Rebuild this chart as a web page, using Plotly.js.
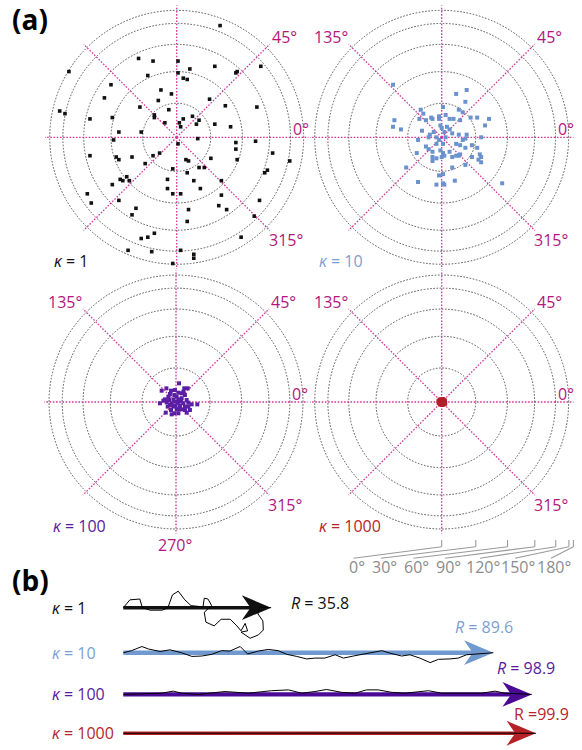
<!DOCTYPE html>
<html><head><meta charset="utf-8">
<script src="https://cdn.plot.ly/plotly-3.0.1.min.js"></script>
<style>html,body{margin:0;padding:0;background:#fff}</style>
</head><body><div id="chart" style="width:582px;height:750px"></div>
<script>
// ---------- DATA ----------
// (a) equal-area projected directions (east / north components, unit radius = 180 deg deviation)
const k1East = [0.33,-0.82,-0.29,-0.18,0.01,0.10,0.29,0.45,0.46,0.64,0.01,-0.22,0.05,0.08,-0.50,-0.12,-0.04,-0.55,-0.14,0.25,0.37,-0.28,0.61,-0.89,-0.85,-0.06,-0.17,-0.17,0.12,0.05,0.02,0.17,0.15,0.29,0.41,-0.49,-0.66,-0.09,0.03,-0.44,-0.27,-0.48,0.16,0.45,0.60,0.45,0.01,-0.66,-0.46,-0.44,-0.34,-0.18,-0.13,0.07,0.09,0.26,0.46,0.73,0.86,-0.24,-0.03,0.17,0.21,0.69,0.67,0.08,-0.43,-0.41,-0.38,-0.36,-0.07,0.13,0.34,-0.49,-0.07,0.18,-0.68,-0.03,0.03,0.34,-0.65,-0.44,0.63,-0.31,0.09,0.32,0.38,-0.34,0.59,0.08,-0.17,-0.27,-0.22,0.49,-0.37,-0.19,0.03,0.13,0.13,-0.03];
const k1North = [0.85,0.50,0.60,0.58,0.58,0.52,0.54,0.49,0.50,0.54,0.49,0.47,0.45,0.44,0.40,0.36,0.33,0.30,0.28,0.29,0.24,0.23,0.23,0.20,0.18,0.21,0.17,0.15,0.16,0.14,0.11,0.13,0.10,0.10,0.08,0.15,0.14,0.11,0.08,0.04,0.04,-0.02,-0.01,-0.04,-0.03,-0.09,-0.05,-0.14,-0.15,-0.17,-0.15,-0.14,-0.12,-0.17,-0.18,-0.16,-0.17,-0.12,-0.18,-0.20,-0.24,-0.23,-0.23,-0.25,-0.27,-0.27,-0.32,-0.33,-0.30,-0.33,-0.32,-0.33,-0.33,-0.36,-0.39,-0.39,-0.43,-0.43,-0.43,-0.44,-0.50,-0.48,-0.48,-0.54,-0.55,-0.52,-0.55,-0.59,-0.60,-0.64,-0.73,-0.77,-0.76,-0.76,-0.86,-0.87,-0.86,-0.89,-0.92,-0.96];

const k10East = [-0.37,0.19,0.11,0.18,-0.16,0.01,0.13,-0.14,0.16,-0.02,-0.08,0.03,-0.17,-0.12,-0.07,-0.02,0.06,0.09,0.14,0.22,0.27,0.36,-0.36,0.33,-0.37,-0.31,-0.01,0.04,0.06,0.00,-0.15,-0.06,-0.09,0.02,0.08,0.13,0.19,0.30,-0.18,-0.10,-0.04,-0.02,0.03,0.18,0.16,-0.12,0.01,0.11,0.14,0.18,0.23,0.27,-0.04,-0.10,-0.07,-0.01,0.01,0.06,0.11,0.13,0.14,-0.19,-0.07,-0.04,0.00,0.02,0.08,0.23,0.29,0.30,0.28,0.30,0.18,-0.07,-0.27,0.08,0.01,-0.02,-0.18,-0.04,0.01,0.02,0.10,0.46];
const k10North = [0.40,0.36,0.33,0.27,0.21,0.23,0.21,0.18,0.19,0.16,0.15,0.17,0.14,0.13,0.14,0.14,0.14,0.14,0.13,0.15,0.15,0.14,0.13,0.09,0.08,0.06,0.09,0.08,0.06,0.07,0.05,0.04,0.02,0.04,0.03,0.02,0.02,0.00,-0.02,0.00,0.00,-0.02,0.00,-0.01,-0.02,-0.07,-0.05,-0.05,-0.06,-0.08,-0.06,-0.08,-0.05,-0.09,-0.11,-0.10,-0.12,-0.11,-0.14,-0.14,-0.13,-0.12,-0.15,-0.16,-0.15,-0.14,-0.15,-0.15,-0.13,-0.15,-0.17,-0.19,-0.21,-0.18,-0.23,-0.23,-0.28,-0.29,-0.34,-0.36,-0.35,-0.36,-0.33,-0.35];

const k100East = [0.023,-0.073,-0.109,-0.038,-0.008,0.063,0.089,0.018,0.043,-0.046,-0.013,0.068,0.005,-0.084,-0.053,-0.020,0.018,0.043,0.081,-0.122,-0.071,-0.033,0.013,0.056,0.094,0.119,0.162,-0.063,-0.020,0.030,0.068,-0.038,0.005,0.043,0.106,-0.013,0.018,-0.033,-0.078,0.081,0.038,-0.008,-0.058,0.056,-0.096,-0.003,0.023,0.068,-0.046,0.094];
const k100North = [0.142,0.104,0.086,0.086,0.091,0.104,0.104,0.071,0.066,0.061,0.053,0.053,0.041,0.020,0.015,0.020,0.020,0.028,0.015,-0.010,-0.003,-0.010,-0.005,-0.010,-0.005,-0.018,-0.018,-0.035,-0.035,-0.030,-0.035,-0.061,-0.056,-0.056,-0.061,-0.086,-0.086,-0.094,-0.081,-0.081,0.003,0.003,0.041,0.078,0.010,-0.030,-0.056,-0.061,-0.023,-0.035];

const k1000East = [0.000,0.010,-0.012,0.018,-0.020,0.005,-0.006,0.014,-0.015,0.002,0.020,-0.008,0.008,-0.022,0.024,0.000,-0.012,0.012,-0.004,0.006,0.016,-0.016,0.022,-0.024,0.026];
const k1000North = [0.015,0.012,0.010,0.004,0.002,0.000,-0.004,-0.008,-0.010,-0.015,-0.014,0.020,0.022,-0.006,0.010,-0.022,-0.018,-0.020,0.006,0.008,0.016,0.016,-0.002,0.006,-0.010];

// radial grid: angular deviation (deg) ; angular grid (deg)
const devTicks = [30,60,90,120,150,180];
const aziTicks = [0,45,90,135,180,225,270,315];
const scaleLabels = ['0°','30°','60°','90°','120°','150°','180°'];
const scaleDeg = [0,30,60,90,120,150,180];

// (b) random walks (unit steps), along / across resultant
const k1WalkX = [0,1.6,4.0,4.6,6.5,9.4,10.8,11.9,13.3,14.9,16.4,19.3,19.6,20.5,21.4,19.6,20.0,22.0,23.7,25.9,27.5,28.5,29.5,30.1,28.5,29.5,30.7,32.7,33.9,33.8,32.6,33.1,35.8];
const k1WalkY = [0,1.9,2.1,0,-0.6,-0.6,0,3.1,4.0,1.9,0.5,0.2,2.3,2.1,0.5,-1.1,-3.5,-4.4,-2.8,-2.8,-4.4,-5.6,-3.8,-5.6,-5.9,-6.6,-7.4,-6.6,-5.4,-3.2,-1.5,0.2,0];
const k10WalkX = [0,2.0,4.5,6.1,8.9,11.3,14.1,16.6,19.0,21.4,23.8,25.8,28.3,30.1,32.7,35.1,37.5,39.6,42.0,44.4,46.4,48.8,51.3,53.3,55.7,58.1,60.5,62.6,64.6,67.4,69.4,71.8,74.3,76.3,79.1,81.1,83.1,85.6,89.6];
const k10WalkY = [0,0.5,1.5,0.9,0.3,0.7,0.0,-0.9,-0.8,-0.4,0.5,0.4,1.5,-0.3,0.4,0.8,0.5,-0.4,-0.9,-1.5,-1.3,-1.3,-0.5,-1.3,-0.8,-0.3,0.2,0.5,-0.1,-0.8,-0.5,-1.3,-2.4,-1.6,-1.5,-1.3,-0.5,-0.3,0.0];
const k100WalkX = [0,6.1,9.3,12.1,14.1,18.2,24.6,30.3,35.9,40.0,43.2,46.4,49.2,52.9,56.1,58.9,61.7,65.0,68.2,73.9,77.1,82.7,86.8,90.0,92.4,98.9];
const k100WalkY = [0,0.3,0.3,0.8,0.3,0,0.7,0.3,0.9,1.1,0.3,0.7,1.2,0.5,0.3,1.1,1.1,0.5,0.3,0.9,0.3,0.3,0.3,0.8,0.3,0];
const k1000WalkX = [0,25,50,75,99.9];
const k1000WalkY = [0,0.05,0,0.05,0];

const kappaLabels = ['1','10','100','1000'];
const resultants = [35.8, 89.6, 98.9, 99.9];
const resultantText = ['<i>R</i> = 35.8','<i>R</i> = 89.6','<i>R</i> = 98.9','R =99.9'];

// ---------- STYLE / LAYOUT ----------
const W = 582, H = 750, RPX = 131.7;
const FONT = 'Open Sans, Noto Sans, sans-serif';
const centers = [[176.7,137.3],[441.7,137.3],[176,402],[441.7,402]];
const markColors = ['#111111','#6b92cc','#5a1ea3','#b01f2a'];
const textColors = ['#111111','#7b9fd4','#5a1aa0','#b5262a'];
const arrowColors = ['#111111','#7099cf','#4a0a96','#b52126'];
const shaftWidths = [3.6,4.6,4.2,3.6];
const markSizes = [3.6,4,4,4.2];
const rowOffsets = [0,-10.9,-21,-30.4];
const MAG = '#b3177c', MAGGRID = '#d4369c';
const angleLabelSets = [['45°','0°','315°'],['135°','45°','0°','315°'],['135°','45°','0°','315°','270°'],['135°','45°','0°','315°']];
const angleOffsets = {'135°':[-111,-100.5],'45°':[107.5,-100.5],'0°':[124,-8],'315°':[109,102.5],'270°':[-1,143]};
const scaleLabelX = [356.5,384,416.5,448,483,518,554];

const pts = [[k1East,k1North],[k10East,k10North],[k100East,k100North],[k1000East,k1000North]];
const walks = [[k1WalkX,k1WalkY],[k10WalkX,k10WalkY],[k100WalkX,k100WalkY],[k1000WalkX,k1000WalkY]];

const traces = [];
const layout = {
  width: W, height: H, margin:{l:0,r:0,t:0,b:0},
  paper_bgcolor:'#fff', plot_bgcolor:'rgba(0,0,0,0)', showlegend:false,
  annotations:[], shapes:[],
  font:{family:FONT}
};

function polarLayout(c){
  return {
    domain:{x:[(c[0]-RPX)/W,(c[0]+RPX)/W], y:[1-(c[1]+RPX)/H, 1-(c[1]-RPX)/H]},
    bgcolor:'rgba(0,0,0,0)',
    radialaxis:{range:[0,1.002], tickvals:devTicks.map(d=>Math.sin(d*Math.PI/360)),
      showticklabels:false, ticks:'', showline:false, gridcolor:'#555555', griddash:'1.6px,1.6px', gridwidth:1},
    angularaxis:{tickvals:aziTicks, showticklabels:false, ticks:'', showline:false,
      gridcolor:MAGGRID, griddash:'1.6px,1.6px', gridwidth:1.3, rotation:0, direction:'counterclockwise'}
  };
}
function addText(px,py,text,font,extra){
  layout.annotations.push(Object.assign({xref:'paper',yref:'paper',x:px/W,y:1-py/H,text:text,
    showarrow:false,xanchor:'center',yanchor:'middle',font:font}, extra||{}));
}

centers.forEach((c,i)=>{
  const name = i===0?'polar':'polar'+(i+1);
  layout[name] = polarLayout(c);
  const E = pts[i][0], N = pts[i][1];
  const n = Math.min(E.length,N.length);
  const r=[], th=[];
  for(let j=0;j<n;j++){ r.push(Math.hypot(E[j],N[j])); th.push(Math.atan2(N[j],E[j])*180/Math.PI); }
  traces.push({type:'scatterpolar', subplot:name, mode:'markers', r:r, theta:th,
    marker:{symbol:'square', size:markSizes[i], color:markColors[i], line:{width:0}}, hoverinfo:'skip'});
  angleLabelSets[i].forEach(t=>{
    const o = angleOffsets[t];
    addText(c[0]+o[0], c[1]+o[1], t, {family:FONT,size:16,color:MAG});
  });
  addText(c[0]-125, c[1]+124, '<i>κ</i> = '+kappaLabels[i], {family:FONT,size:16,color:textColors[i]}, {xanchor:'left'});
});

// angular-deviation scale under the last panel
const sc = centers[3];
scaleDeg.forEach((d,i)=>{
  const tx = sc[0] + RPX*Math.sin(d*Math.PI/360);
  const yTop = sc[1]+RPX+6.3, yBot = sc[1]+RPX+13, yEnd = sc[1]+RPX+24.5;
  const ln = {color:'#9a9a9a', width:1.1};
  layout.shapes.push({type:'line', xref:'paper', yref:'paper', x0:tx/W, x1:tx/W, y0:1-yTop/H, y1:1-yBot/H, line:ln});
  layout.shapes.push({type:'line', xref:'paper', yref:'paper', x0:tx/W, x1:(scaleLabelX[i]-3)/W, y0:1-yBot/H, y1:1-yEnd/H, line:ln});
  addText(scaleLabelX[i], sc[1]+RPX+33, scaleLabels[i], {family:FONT,size:16,color:'#8c8c8c'});
});

// panel letters
addText(30, 19, '<b>(a)</b>', {family:FONT,size:28,color:'#000'});
addText(30, 580, '<b>(b)</b>', {family:FONT,size:28,color:'#000'});

// (b) cartesian: 1 unit step = 4.13 px
const UNIT = 4.13, X0PX = 123.3, ROW0PX = 607.7;
layout.xaxis = {domain:[0,1], range:[-X0PX/UNIT, (W-X0PX)/UNIT], visible:false, fixedrange:true};
const yTopPx = 570;
layout.yaxis = {domain:[0,(H-yTopPx)/H], range:[(ROW0PX-H)/UNIT, (ROW0PX-yTopPx)/UNIT], visible:false, fixedrange:true};

const headLen = 7.1, headHalf = 3.0, notch = 5.0;
resultants.forEach((R,i)=>{
  const off = rowOffsets[i];
  traces.push({type:'scatter', mode:'lines', x:[0, R-notch+0.5], y:[off,off],
    line:{color:arrowColors[i], width:shaftWidths[i]}, hoverinfo:'skip'});
  traces.push({type:'scatter', mode:'lines', x:[R-headLen, R, R-headLen, R-notch, R-headLen], y:[off+headHalf, off, off-headHalf, off, off+headHalf],
    fill:'toself', fillcolor:arrowColors[i], line:{width:0, color:arrowColors[i]}, hoverinfo:'skip'});
  const wx = walks[i][0], wy = walks[i][1];
  traces.push({type:'scatter', mode:'lines', x:wx, y:wy.map(v=>v+off),
    line:{color:'#000', width:1}, hoverinfo:'skip'});
  layout.annotations.push({xref:'x', yref:'y', x:-17.8, y:off, text:'<i>κ</i> = '+kappaLabels[i], showarrow:false,
    xanchor:'left', yanchor:'middle', font:{family:FONT,size:16,color:textColors[i]}});
});
const rLabelPos = [[40.1,1.2,'left'],[87.3,6.2,'center'],[97.4,6.3,'center'],[101.3,4.6,'center']];
rLabelPos.forEach((p,i)=>{
  layout.annotations.push({xref:'x', yref:'y', x:p[0], y:rowOffsets[i]+p[1], text:resultantText[i], showarrow:false,
    xanchor:p[2], yanchor:'middle', font:{family:FONT,size:16,color:textColors[i]}});
});

Plotly.newPlot('chart', traces, layout, {staticPlot:true, displayModeBar:false});
</script></body></html>
